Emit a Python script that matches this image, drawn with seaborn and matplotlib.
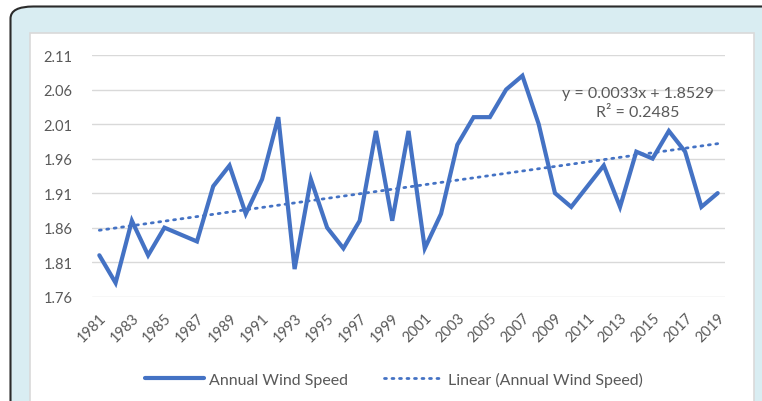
import numpy as np
import pandas as pd
import matplotlib
matplotlib.use("Agg")
import matplotlib.pyplot as plt
from matplotlib.patches import FancyBboxPatch, Rectangle
from matplotlib.lines import Line2D
import seaborn as sns

# Data
years = list(range(1981, 2020))
wind_speed = [1.82, 1.78, 1.87, 1.82, 1.86, 1.85, 1.84, 1.92, 1.95, 1.88,
              1.93, 2.02, 1.80, 1.93, 1.86, 1.83, 1.87, 2.00, 1.87, 2.00,
              1.83, 1.88, 1.98, 2.02, 2.02, 2.06, 2.08, 2.01, 1.91, 1.89,
              1.92, 1.95, 1.89, 1.97, 1.96, 2.00, 1.97, 1.89, 1.91]
trend_slope = 0.0033
trend_intercept = 1.8529
trend_r2 = 0.2485
y_ticks = [1.76, 1.81, 1.86, 1.91, 1.96, 2.01, 2.06, 2.11]
x_ticks = years[::2]

df = pd.DataFrame({"Year": years, "Speed": wind_speed})
df["Trend"] = trend_slope * np.arange(1, len(years) + 1) + trend_intercept

sns.set_theme(style="white")
plt.rcParams["font.family"] = ["Lato", "DejaVu Sans"]

blue = "#4472C4"
grey_text = "#595959"
dots = (0, (0.7, 2.0))

W, H = 762, 402
fig = plt.figure(figsize=(W / 100, H / 100), dpi=100)
fig.patch.set_facecolor("white")

# Frame: light blue panel with dark rounded border, white chart box inside
panel = FancyBboxPatch((10.5 / W, -0.2), 1.2, (H - 7.5) / H + 0.2,
                       boxstyle="round,pad=0,rounding_size=0.03",
                       transform=fig.transFigure, facecolor="#d9edf2",
                       edgecolor="#2b2b2b", linewidth=1.5, zorder=0)
fig.patches.append(panel)
box = Rectangle((30 / W, -0.1), (754 - 30) / W, (H - 34) / H + 0.1,
                transform=fig.transFigure, facecolor="white",
                edgecolor="#d9d9d9", linewidth=1.2, zorder=1)
fig.patches.append(box)

ax = fig.add_axes([92 / W, (H - 297.7) / H, (725 - 92) / W, (297.7 - 56) / H])
ax.set_facecolor("none")
ax.set_zorder(2)

sns.lineplot(data=df, x="Year", y="Speed", ax=ax, color=blue, linewidth=3.0,
             solid_joinstyle="miter", zorder=3)
sns.lineplot(data=df, x="Year", y="Trend", ax=ax, color=blue, linewidth=2.0,
             linestyle=dots, dash_capstyle="round", zorder=2)

ax.set_xlim(1980.55, 2019.45)
ax.set_ylim(1.76, 2.11)
ax.set_yticks(y_ticks)
ax.set_yticklabels([f"{v:.2f}" for v in y_ticks])
ax.set_xticks(x_ticks)
ax.set_xticklabels([str(y) for y in x_ticks], rotation=45, ha="right",
                   rotation_mode="anchor")
ax.grid(axis="y", color="#d9d9d9", linewidth=1.0)
ax.set_axisbelow(True)
for s in ax.spines.values():
    s.set_visible(False)
ax.set_xlabel("")
ax.set_ylabel("")
ax.tick_params(axis="y", labelsize=10.5, labelcolor=grey_text, length=0, pad=14)
ax.tick_params(axis="x", labelsize=10.5, labelcolor=grey_text, length=0, pad=10)

ax.text(0.8626, 0.805, f"y = {trend_slope:.4f}x + {trend_intercept:.4f}\nR² = {trend_r2:.4f}",
        transform=ax.transAxes, ha="center", va="center", fontsize=11.5,
        color=grey_text, linespacing=1.45)

handles = [Line2D([], [], color=blue, linewidth=3.0),
           Line2D([], [], color=blue, linewidth=2.0, linestyle=dots,
                  dash_capstyle="round")]
fig.legend(handles, ["Annual Wind Speed", "Linear (Annual Wind Speed)"],
           loc="center", bbox_to_anchor=(394 / W, (H - 380) / H), ncol=2,
           frameon=False, fontsize=11.5, labelcolor=grey_text, handlelength=3.7,
           handletextpad=0.3, columnspacing=2.3)

fig.savefig("out.png", dpi=100, facecolor=fig.get_facecolor())
